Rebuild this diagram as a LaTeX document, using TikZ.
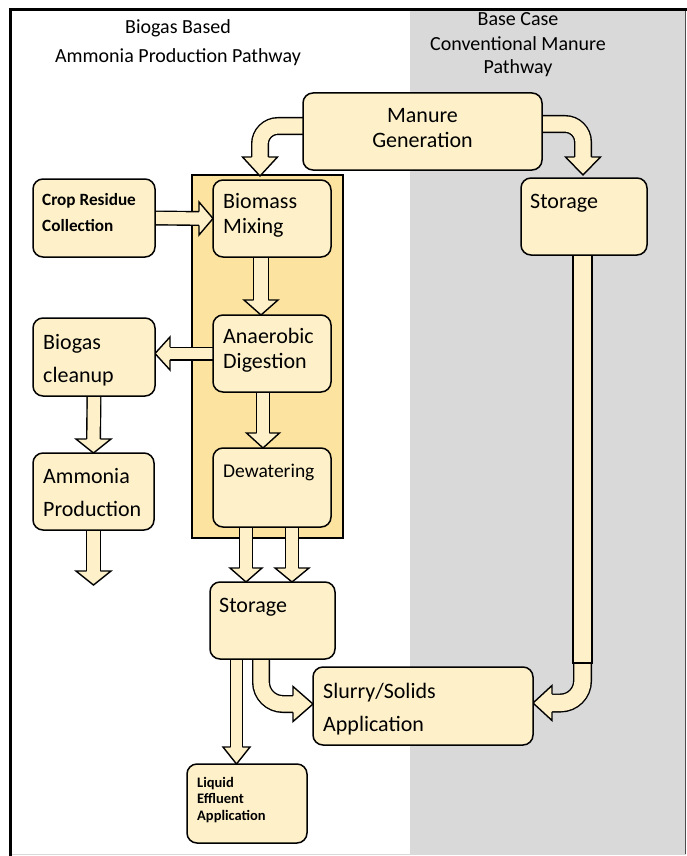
\documentclass[tikz,border=0pt]{standalone}
\usepackage{fontspec}
\setmainfont{Carlito}
\usetikzlibrary{calc}
\definecolor{cream}{HTML}{FEF1CA}
\definecolor{gold}{HTML}{FDE3A0}
\definecolor{greybg}{HTML}{D9D9D9}
\pgfdeclarelayer{back}
\pgfdeclarelayer{arrowlayer}
\pgfsetlayers{back,arrowlayer,main}
\newcommand{\bhead}[5]{%
  \filldraw[arr,shift={#1},rotate=#2] (-#5pt,#3pt) -- (-#5pt,#4pt) -- (0pt,0pt) -- (-#5pt,-#4pt) -- (-#5pt,-#3pt);}
\begin{document}
\begin{tikzpicture}[x=1pt,y=-1pt,
  box/.style={draw=black, line width=1.5pt, fill=cream, rounded corners=10pt, inner sep=0pt, outer sep=0pt},
  arr/.style={draw=black, line width=1.4pt, fill=cream, line join=miter},
  shaft/.style={draw=black, line width=1.4pt, double=cream, double distance=#1, line cap=butt},
  lbl/.style={anchor=base west, inner sep=0pt, font=\fontsize{22}{26}\selectfont},
  lbld/.style={anchor=base west, inner sep=0pt, font=\fontsize{19.5}{23}\selectfont},
  lblb/.style={anchor=base west, inner sep=0pt, font=\bfseries\fontsize{17.2}{20}\selectfont},
  lbls/.style={anchor=base west, inner sep=0pt, font=\bfseries\fontsize{14.5}{16}\selectfont},
  ttl/.style={anchor=base, inner sep=0pt, font=\fontsize{20}{24}\selectfont}]
\useasboundingbox (0,0) rectangle (687,856);
\begin{pgfonlayer}{back}
  \fill[white] (0,0) rectangle (687,856);
  \fill[greybg] (410,10) rectangle (685,854);
  \draw[line width=0.8pt, draw=black!15] (11,854.5) -- (686,854.5);
  \draw[line width=1pt, draw=black!70] (685.5,9) -- (685.5,854);
  \draw[line width=3pt] (9,9.5) -- (686.5,9.5);
  \draw[line width=3pt] (10.5,8) -- (10.5,856);
  \node[draw=black, line width=1.5pt, fill=gold, minimum width=151pt, minimum height=363pt, inner sep=0pt, outer sep=0pt] (cont) at (267.5,356.5) {};
\end{pgfonlayer}

% boxes
\node[box, minimum width=239pt, minimum height=77pt] (manure) at (422.5,131.5) {};
\node[box, minimum width=122pt, minimum height=78pt] (crop) at (94,218) {};
\node[box, minimum width=118pt, minimum height=77pt] (biomass) at (272,218.5) {};
\node[box, minimum width=118pt, minimum height=77pt] (anaer) at (272,353.5) {};
\node[box, minimum width=122pt, minimum height=78pt] (biogas) at (94,357) {};
\node[box, minimum width=121pt, minimum height=77pt] (ammonia) at (93.5,491.5) {};
\node[box, minimum width=118pt, minimum height=79pt] (dewat) at (272,487.5) {};
\node[box, minimum width=125pt, minimum height=77pt] (stor) at (272.5,620.5) {};
\node[box, minimum width=126pt, minimum height=77pt] (storr) at (584,216.5) {};
\node[box, minimum width=220pt, minimum height=78pt] (slurry) at (423,706) {};
\node[box, minimum width=120pt, minimum height=79pt] (liquid) at (247,803.5) {};

\coordinate (out) at ([yshift=-55pt]ammonia.south);
\coordinate (pj) at ([yshift=-408pt]storr.south);

\begin{pgfonlayer}{arrowlayer}
  % Crop -> Biomass
  \draw[shaft=12.2pt] (crop.east) -- ([xshift=-14pt]biomass.west);
  \bhead{(biomass.west)}{0}{6.8}{16.5}{14}
  % Biomass -> Anaerobic
  \draw[shaft=13.2pt] ([xshift=-11pt]biomass.south) -- ([xshift=-11pt,yshift=15pt]anaer.north);
  \bhead{([xshift=-11pt]anaer.north)}{-90}{7.3}{17}{15}
  % Anaerobic -> Biogas cleanup
  \draw[shaft=11.2pt] (anaer.west) -- ([xshift=15pt]biogas.east |- anaer.west);
  \bhead{(biogas.east |- anaer.west)}{180}{6.3}{16.5}{15}
  % Biogas -> Ammonia
  \draw[shaft=12.2pt] (biogas.south) -- ([yshift=14pt]ammonia.north);
  \bhead{(ammonia.north)}{-90}{6.8}{17.5}{14}
  % Ammonia -> out
  \draw[shaft=12.2pt] (ammonia.south) -- ([yshift=14pt]out);
  \bhead{(out)}{-90}{6.8}{17.5}{14}
  % Anaerobic -> Dewatering
  \draw[shaft=11.2pt] ([xshift=-9pt]anaer.south) -- ([xshift=-9pt,yshift=15pt]dewat.north);
  \bhead{([xshift=-9pt]dewat.north)}{-90}{6.3}{16.5}{15}
  % Dewatering -> Storage (two)
  \draw[shaft=11.2pt] ([xshift=-26pt]dewat.south) -- ([xshift=-26.5pt,yshift=14pt]stor.north);
  \bhead{([xshift=-26.5pt]stor.north)}{-90}{6.3}{16}{14}
  \draw[shaft=11.2pt] ([xshift=20pt]dewat.south) -- ([xshift=19.5pt,yshift=14pt]stor.north);
  \bhead{([xshift=19.5pt]stor.north)}{-90}{6.3}{17}{14}
  % Storage -> Liquid effluent
  \draw[shaft=10.2pt] ([xshift=-36pt]stor.south) -- ([xshift=-10.5pt,yshift=17pt]liquid.north);
  \bhead{([xshift=-10.5pt]liquid.north)}{-90}{5.8}{13.5}{17}
  % Manure -> Biomass (curved)
  \draw[shaft=15.2pt, rounded corners=18pt] ([yshift=5.5pt]manure.west) -| ([xshift=-12pt,yshift=23pt]biomass.north);
  \bhead{([xshift=-12pt,yshift=4pt]biomass.north)}{-90}{8.3}{17.5}{19}
  % Manure -> Storage right (curved)
  \draw[shaft=15.2pt, rounded corners=18pt] ([yshift=7.5pt]manure.east) -| ([xshift=-1pt,yshift=21pt]storr.north);
  \bhead{([xshift=-1pt,yshift=3pt]storr.north)}{-90}{8.3}{17.5}{18}
  % Storage -> Slurry (curved)
  \draw[shaft=15.2pt, rounded corners=22pt] ([xshift=-11.5pt]stor.south) |- ([xshift=-20pt,yshift=2pt]slurry.west);
  \bhead{([yshift=2pt]slurry.west)}{0}{8.3}{17.5}{20}
  % Storage right -> Slurry (pipe)
  \draw[shaft=16.2pt, rounded corners=22pt] ([xshift=-1.5pt]pj) |- ([xshift=19pt,yshift=3pt]slurry.east);
  \bhead{([yshift=3pt]slurry.east)}{180}{8.8}{17.5}{19}
  \draw[arr] ([xshift=-11pt]storr.south) rectangle ([xshift=8pt]pj);
\end{pgfonlayer}

% titles
\node[ttl] (t1) at (178,34) {Biogas Based};
\node[ttl] (t2) at (178,63) {Ammonia Production Pathway};
\node[ttl] (t3) at (518,26) {Base Case};
\node[ttl] (t4) at (518,51) {Conventional Manure};
\node[ttl] (t5) at (518,74) {Pathway};

% box texts
\node[anchor=base, inner sep=0pt, font=\fontsize{22}{26}\selectfont] (m1) at (422.5,122) {Manure};
\node[anchor=base, inner sep=0pt, font=\fontsize{22}{26}\selectfont] (m2) at (422.5,147) {Generation};
\node[lblb] (c1) at (42,205) {Crop Residue};
\node[lblb] (c2) at (42,231) {Collection};
\node[lbl] (b1) at (223,208) {Biomass};
\node[lbl] (b2) at (223,233) {Mixing};
\node[lbl] (a1) at (223,343) {Anaerobic};
\node[lbl] (a2) at (223,368) {Digestion};
\node[lbl] (g1) at (43,349) {Biogas};
\node[lbl] (g2) at (43,382) {cleanup};
\node[lbl] (n1) at (43,483) {Ammonia};
\node[lbl] (n2) at (43,516) {Production};
\node[lbld] (d1) at (223,477) {Dewatering};
\node[lbl] (s1) at (219,612) {Storage};
\node[lbl] (r1) at (530,208) {Storage};
\node[lbl] (l1) at (323,698) {Slurry/Solids};
\node[lbl] (l2) at (323,731) {Application};
\node[lbls] (q1) at (197,787) {Liquid};
\node[lbls] (q2) at (197,803) {Effluent};
\node[lbls] (q3) at (197,820) {Application};
\end{tikzpicture}
\end{document}
